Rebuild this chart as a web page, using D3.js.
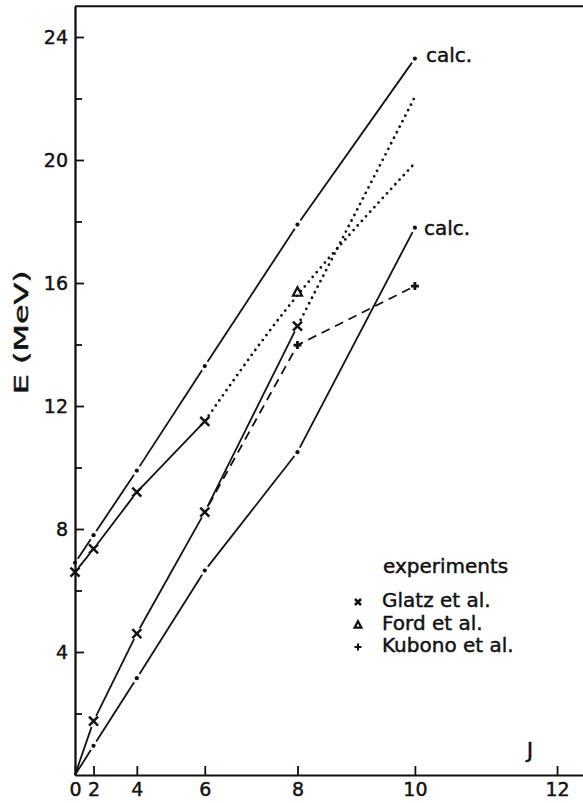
<!DOCTYPE html>
<html>
<head>
<meta charset="utf-8">
<script src="https://cdn.jsdelivr.net/npm/d3@7"></script>
<style>
  body { margin: 0; background: #fff; }
  svg { display: block; }
  text { font-family: "DejaVu Sans", sans-serif; fill: #111; stroke: #111; stroke-width: 0.45; }
  .axis path, .axis line { stroke: #111; stroke-width: 1.8; }
  .axis text { font-size: 19px; }
</style>
</head>
<body>
<svg id="chart" width="583" height="803"></svg>
<script>
// values, E in MeV, J spins
var spins = [0, 2, 4, 6, 8, 10];
var calcUpper = [6.9, 7.8, 9.9, 13.3, 17.9, 23.3];
var calcLower = [0, 0.95, 3.15, 6.65, 10.5, 17.8];

var glatzUpperJ = [0, 2, 4, 6];
var glatzUpper = [6.6, 7.35, 9.2, 11.5];
var glatzLowerJ = [0, 2, 4, 6, 8];      // line starts at origin, crosses from J=2
var glatzLower = [0, 1.75, 4.6, 8.55, 14.6];

var fordJ = [8];
var ford = [15.7];

var kubonoJ = [6, 8, 10];               // dashed line leaves the J=6 cross
var kubono = [8.55, 13.98, 15.9];

var dotAJ = [6, 8, 10];
var dotA = [11.5, 15.6, 19.9];
var dotBJ = [8, 10];
var dotB = [14.6, 22.05];

var xTicks = [0, 2, 4, 6, 8, 10, 12];
var yMajor = [4, 8, 12, 16, 20, 24];
var yMinor = [2, 6, 10, 14, 18, 22];

var legendItems = ["Glatz et al.", "Ford et al.", "Kubono et al."];

var svg = d3.select('#chart');

function jj(J) { return J * (J + 1); }   // abscissa is J(J+1)

var x = d3.scaleLinear().domain([0, 165]).range([75, 75 + 165 * 3.09]);
var y = d3.scaleLinear().domain([0, 25]).range([775, 775 - 25 * 30.75]);

// axes, ticks pointing inward
var xAxis = d3.axisBottom(x)
  .tickValues(xTicks.map(jj))
  .tickFormat(function (v, i) { return xTicks[i]; })
  .tickSizeInner(-9).tickSizeOuter(0).tickPadding(8);
svg.append('g').attr('class', 'x axis')
  .attr('transform', 'translate(0,' + y(0) + ')').call(xAxis);

var yAxis = d3.axisLeft(y).tickValues(yMajor)
  .tickSizeInner(-9).tickSizeOuter(0).tickPadding(7);
svg.append('g').attr('class', 'y axis')
  .attr('transform', 'translate(' + x(0) + ',0)').call(yAxis);

var yMinorAxis = d3.axisLeft(y).tickValues(yMinor).tickFormat('')
  .tickSizeInner(-7).tickSizeOuter(0);
svg.append('g').attr('class', 'y axis minor')
  .attr('transform', 'translate(' + x(0) + ',0)').call(yMinorAxis);

// top frame line
svg.append('line')
  .attr('x1', x(0)).attr('x2', 600)
  .attr('y1', y(25)).attr('y2', y(25))
  .attr('stroke', '#111').attr('stroke-width', 1.8);

// axis titles
svg.append('text')
  .attr('transform', 'translate(28,' + y(14.4) + ') rotate(-90)')
  .attr('text-anchor', 'middle')
  .attr('textLength', 124).attr('lengthAdjust', 'spacingAndGlyphs')
  .style('font-size', '19px')
  .text('E (MeV)');
svg.append('text')
  .attr('x', 530).attr('y', 758)
  .attr('text-anchor', 'middle')
  .style('font-size', '22px')
  .text('J');

// solid segments with gaps at the marked points
function gapLine(Js, Es, gaps) {
  var pts = Js.map(function (J, i) { return [x(jj(J)), y(Es[i])]; });
  var g = svg.append('g');
  for (var i = 0; i < pts.length - 1; i++) {
    var p = pts[i], q = pts[i + 1];
    var dx = q[0] - p[0], dy = q[1] - p[1];
    var len = Math.sqrt(dx * dx + dy * dy);
    var a = gaps[i] / len, b = 1 - gaps[i + 1] / len;
    g.append('line')
      .attr('x1', p[0] + dx * a).attr('y1', p[1] + dy * a)
      .attr('x2', p[0] + dx * b).attr('y2', p[1] + dy * b)
      .attr('stroke', '#111').attr('stroke-width', 1.8);
  }
  return g;
}

// calculated bands: dash with a dot at each J
[calcUpper, calcLower].forEach(function (vals) {
  var gaps = vals.map(function (v) { return v === 0 ? 0 : 5; });
  gapLine(spins, vals, gaps);
  svg.append('g').selectAll('circle')
    .data(vals.filter(function (v) { return v > 0; }))
    .enter().append('circle')
    .attr('r', 2.1)
    .attr('cx', function (d) { return x(jj(spins[vals.indexOf(d)])); })
    .attr('cy', function (d) { return y(d); })
    .attr('fill', '#111');
});

svg.append('text').attr('x', 426).attr('y', 62)
  .style('font-size', '20px').text('calc.');
svg.append('text').attr('x', 424).attr('y', 235)
  .style('font-size', '20px').text('calc.');

// experimental Glatz lines
gapLine(glatzUpperJ, glatzUpper, glatzUpper.map(function () { return 6; }));
gapLine(glatzLowerJ, glatzLower, glatzLower.map(function (v) { return v === 0 ? 0 : 6; }));

// dotted continuations
var dotted = d3.line()
  .x(function (d) { return x(jj(d[0])); })
  .y(function (d) { return y(d[1]); })
  .curve(d3.curveNatural);
[[dotAJ, dotA], [dotBJ, dotB]].forEach(function (s) {
  svg.append('path')
    .attr('d', dotted(s[0].map(function (J, i) { return [J, s[1][i]]; })))
    .attr('fill', 'none').attr('stroke', '#111')
    .attr('stroke-width', 2.8).attr('stroke-linecap', 'round')
    .attr('stroke-dasharray', '0 6.2')
    .attr('stroke-dashoffset', -7);
});

// Kubono dashed line
var straight = d3.line()
  .x(function (d) { return x(jj(d[0])); })
  .y(function (d) { return y(d[1]); });
svg.append('path')
  .attr('d', straight(kubonoJ.map(function (J, i) { return [J, kubono[i]]; })))
  .attr('fill', 'none').attr('stroke', '#111')
  .attr('stroke-width', 1.8).attr('stroke-dasharray', '9 6')
  .attr('stroke-dashoffset', -8);

// markers
function cross(g, cx, cy, s) {
  g.append('path')
    .attr('d', 'M' + (cx - s) + ',' + (cy - s) + 'L' + (cx + s) + ',' + (cy + s) +
               'M' + (cx - s) + ',' + (cy + s) + 'L' + (cx + s) + ',' + (cy - s))
    .attr('stroke', '#111').attr('stroke-width', 2.5);
}
function plus(g, cx, cy, s, w) {
  g.append('path')
    .attr('d', 'M' + (cx - s) + ',' + cy + 'L' + (cx + s) + ',' + cy +
               'M' + cx + ',' + (cy - s) + 'L' + cx + ',' + (cy + s))
    .attr('stroke', '#111').attr('stroke-width', w || 2.8);
}
function tri(g, cx, cy, s) {
  g.append('path')
    .attr('d', 'M' + cx + ',' + (cy - s) + 'L' + (cx + s * 0.9) + ',' + (cy + s * 0.7) +
               'L' + (cx - s * 0.9) + ',' + (cy + s * 0.7) + 'Z')
    .attr('fill', 'none').attr('stroke', '#111').attr('stroke-width', 2.2);
}

var marks = svg.append('g');
glatzUpperJ.forEach(function (J, i) { cross(marks, x(jj(J)), y(glatzUpper[i]), 4.5); });
glatzLowerJ.forEach(function (J, i) {
  if (glatzLower[i] > 0) cross(marks, x(jj(J)), y(glatzLower[i]), 4.5);
});
fordJ.forEach(function (J, i) { tri(marks, x(jj(J)), y(ford[i]), 5); });
kubonoJ.forEach(function (J, i) {
  if (i > 0) plus(marks, x(jj(J)), y(kubono[i]), 4);
});

// legend
var legend = svg.append('g');
legend.append('text').attr('x', 383).attr('y', 573)
  .style('font-size', '20px').text('experiments');
legendItems.forEach(function (name, i) {
  var ly = [607, 630, 652][i];
  legend.append('text').attr('x', 382).attr('y', ly)
    .style('font-size', '20px').text(name);
  var cy = ly - 5;
  if (i === 0) cross(legend, 358, cy, 3);
  if (i === 1) tri(legend, 358, cy, 3.8);
  if (i === 2) plus(legend, 358, cy, 3.5, 2);
});
</script>
</body>
</html>
